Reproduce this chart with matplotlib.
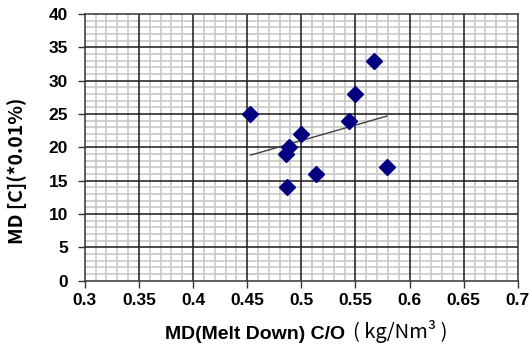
import numpy as np
import matplotlib
matplotlib.use('Agg')
import matplotlib.pyplot as plt
from matplotlib.ticker import MultipleLocator

# melt-down C/O vs. carbon content
co_ratio = [0.453, 0.567, 0.550, 0.544, 0.500, 0.489, 0.486, 0.579, 0.514, 0.487]
carbon = [25, 33, 28, 24, 22, 20, 19, 17, 16, 14]

x_ticks = [0.3, 0.35, 0.4, 0.45, 0.5, 0.55, 0.6, 0.65, 0.7]
x_ticklabels = ['0.3', '0.35', '0.4', '0.45', '0.5', '0.55', '0.6', '0.65', '0.7']
y_ticks = [0, 5, 10, 15, 20, 25, 30, 35, 40]

plt.rcParams['font.family'] = ['Liberation Sans', 'DejaVu Sans']
kr_font = ['Noto Sans CJK KR', 'DejaVu Sans']

fig = plt.figure(figsize=(5.3, 3.48), dpi=100)
ax = fig.add_axes([0.160, 0.193, 0.817, 0.767])

ax.set_xlim(0.3, 0.7)
ax.set_ylim(0, 40)
ax.set_xticks(x_ticks)
ax.set_xticklabels(x_ticklabels)
ax.set_yticks(y_ticks)
ax.xaxis.set_minor_locator(MultipleLocator(0.01))
ax.yaxis.set_minor_locator(MultipleLocator(1))

# light minor grid, dark major lines drawn on top of it
ax.grid(which='minor', color='#c8c8c8', linewidth=1.2)
ax.set_axisbelow(True)
for xv in x_ticks[1:-1]:
    ax.axvline(xv, color='#1a1a1a', linewidth=1.1, zorder=1)
for yv in y_ticks[1:-1]:
    ax.axhline(yv, color='#1a1a1a', linewidth=1.1, zorder=1)

for s in ax.spines.values():
    s.set_color('#333333')
    s.set_linewidth(1.1)

ax.tick_params(which='major', direction='out', length=5, width=1, color='#333333',
               labelsize=12.5)
ax.tick_params(axis='y', pad=7)
ax.tick_params(axis='x', pad=4)
ax.tick_params(which='minor', length=0)
for lbl in ax.get_xticklabels() + ax.get_yticklabels():
    lbl.set_fontweight('bold')

ax.plot(co_ratio, carbon, linestyle='none', marker='D', markersize=8,
        color='#000080', zorder=3)

# linear trend line over the data range
k, b = np.polyfit(co_ratio, carbon, 1)
xs = np.array([min(co_ratio), max(co_ratio)])
ax.plot(xs, k * xs + b, color='#404040', linewidth=1.0, zorder=2)

fig.text(17 / 530, 1 - 171 / 348, 'MD [C](*0.01%)', rotation=90, fontsize=14,
         fontweight='bold', family=kr_font, ha='center', va='center')

xl = fig.text(165 / 530, 1 - 339 / 348, 'MD(Melt Down) C/O', fontsize=14,
              fontweight='bold', ha='left', va='baseline')
ax.annotate('( kg/Nm³ )', xy=(1, 0), xycoords=xl, xytext=(6, 0),
            textcoords='offset points', fontsize=14.5,
            family=kr_font, ha='left', va='bottom')

fig.savefig('out.png', dpi=100)
